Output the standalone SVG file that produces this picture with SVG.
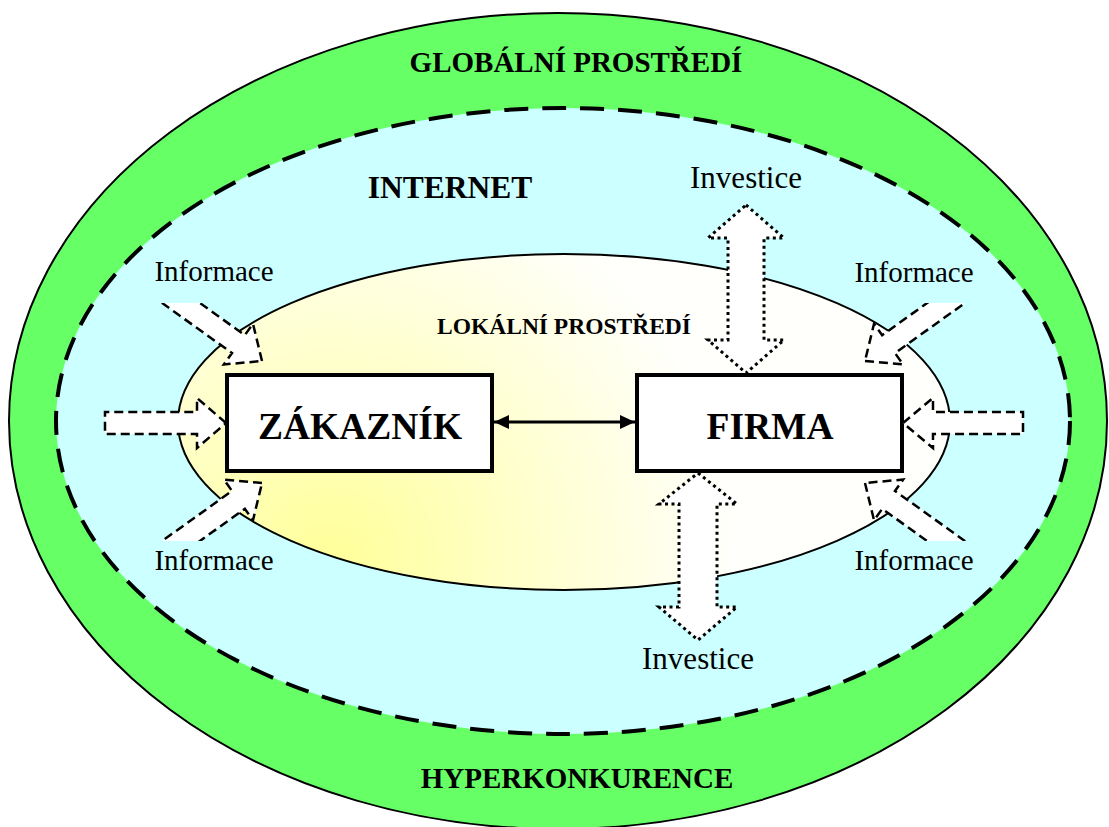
<svg xmlns="http://www.w3.org/2000/svg" width="1109" height="827" viewBox="0 0 1109 827">
  <style>
    .t { font-family: "Liberation Serif", "Times New Roman", serif; fill: #000; }
    .b { font-weight: bold; }
    .info { font-size: 29px; }
    .inv { font-size: 31px; }
    .flow { fill: #fff; stroke: #000; stroke-width: 2.5; stroke-dasharray: 9 5; stroke-linejoin: miter; }
    .invest { fill: #fff; stroke: #000; stroke-width: 3; stroke-dasharray: 3 3.5; }
    .box { fill: #fff; stroke: #000; stroke-width: 4; }
  </style>
  <defs>
    <radialGradient id="localFill" gradientUnits="userSpaceOnUse" cx="330" cy="560" r="400">
      <stop offset="0" stop-color="#FFFF99"/>
      <stop offset="0.5" stop-color="#FFFFCC"/>
      <stop offset="1" stop-color="#FFFFFB"/>
    </radialGradient>
    <marker id="head" viewBox="0 0 15 14" refX="15" refY="7" markerWidth="15" markerHeight="14" markerUnits="userSpaceOnUse" orient="auto-start-reverse">
      <path d="M0,0 L15,7 L0,14 Z" fill="#000"/>
    </marker>
    <!-- block arrow, tip at origin pointing along +x -->
    <path id="infoArrow" d="M0,0 L-29,-25 L-29,-11 L-140,-11 L-140,11 L-29,11 L-29,25 Z"/>
    <clipPath id="clipTop"><rect x="0" y="303" width="1109" height="300"/></clipPath>
    <clipPath id="clipBottom"><rect x="0" y="300" width="1109" height="241"/></clipPath>
  </defs>

  <rect width="1109" height="827" fill="#fff"/>

  <g id="global">
    <ellipse cx="558" cy="421" rx="549" ry="408" fill="#66FF66" stroke="#000" stroke-width="2"/>
    <text class="t b" x="576" y="72" font-size="29" text-anchor="middle">GLOBÁLNÍ PROSTŘEDÍ</text>
    <text class="t b" x="577" y="788" font-size="29" text-anchor="middle">HYPERKONKURENCE</text>
  </g>

  <g id="internet">
    <ellipse cx="563" cy="421" rx="507" ry="313" fill="#CCFFFF" stroke="#000" stroke-width="4" stroke-dasharray="24 14"/>
    <text class="t b" x="450" y="198" font-size="31.5" text-anchor="middle">INTERNET</text>
  </g>

  <g id="local">
    <ellipse cx="564" cy="422" rx="386" ry="168" fill="url(#localFill)" stroke="#000" stroke-width="2"/>
    <text class="t b" x="564" y="334" font-size="23.5" text-anchor="middle">LOKÁLNÍ PROSTŘEDÍ</text>
  </g>

  <g id="zakaznik">
    <rect class="box" x="227" y="375" width="265" height="96"/>
    <text class="t b" x="360" y="439" font-size="37.5" text-anchor="middle">ZÁKAZNÍK</text>
  </g>

  <g id="firma">
    <rect class="box" x="637" y="375" width="265" height="96"/>
    <text class="t b" x="770" y="439" font-size="37.5" text-anchor="middle">FIRMA</text>
  </g>

  <g id="connectors">
    <!-- customer / company relation -->
    <line x1="494" y1="422" x2="635" y2="422" stroke="#000" stroke-width="3" marker-start="url(#head)" marker-end="url(#head)"/>

    <!-- information flows -->
    <g id="info-flows">
      <path class="flow" d="M226,423 L197,398 L197,412 L105,412 L105,434 L197,434 L197,448 Z"/>
      <path class="flow" d="M903,423 L933,398 L933,412 L1023,412 L1023,434 L933,434 L933,448 Z"/>
      <g clip-path="url(#clipTop)">
        <use href="#infoArrow" class="flow" transform="translate(262,361) rotate(35.6)"/>
        <use href="#infoArrow" class="flow" transform="translate(865,361) rotate(144.4)"/>
      </g>
      <g clip-path="url(#clipBottom)">
        <use href="#infoArrow" class="flow" transform="translate(262,483) rotate(-35.6)"/>
        <use href="#infoArrow" class="flow" transform="translate(865,483) rotate(215.6)"/>
      </g>
    </g>

    <!-- investment flows -->
    <g id="invest-flows">
      <path class="invest" d="M746,205 L784,238 L764,238 L764,340 L784,340 L746,373 L708,340 L728,340 L728,238 L708,238 Z"/>
      <path class="invest" d="M698,473 L737,504 L717,504 L717,607 L737,607 L698,640 L659,607 L679,607 L679,504 L659,504 Z"/>
    </g>
  </g>

  <g id="labels">
    <text class="t info" x="214" y="281" text-anchor="middle">Informace</text>
    <text class="t info" x="914" y="282" text-anchor="middle">Informace</text>
    <text class="t info" x="214" y="570" text-anchor="middle">Informace</text>
    <text class="t info" x="914" y="570" text-anchor="middle">Informace</text>
    <text class="t inv" x="746" y="188" text-anchor="middle">Investice</text>
    <text class="t inv" x="698" y="669" text-anchor="middle">Investice</text>
  </g>
</svg>
